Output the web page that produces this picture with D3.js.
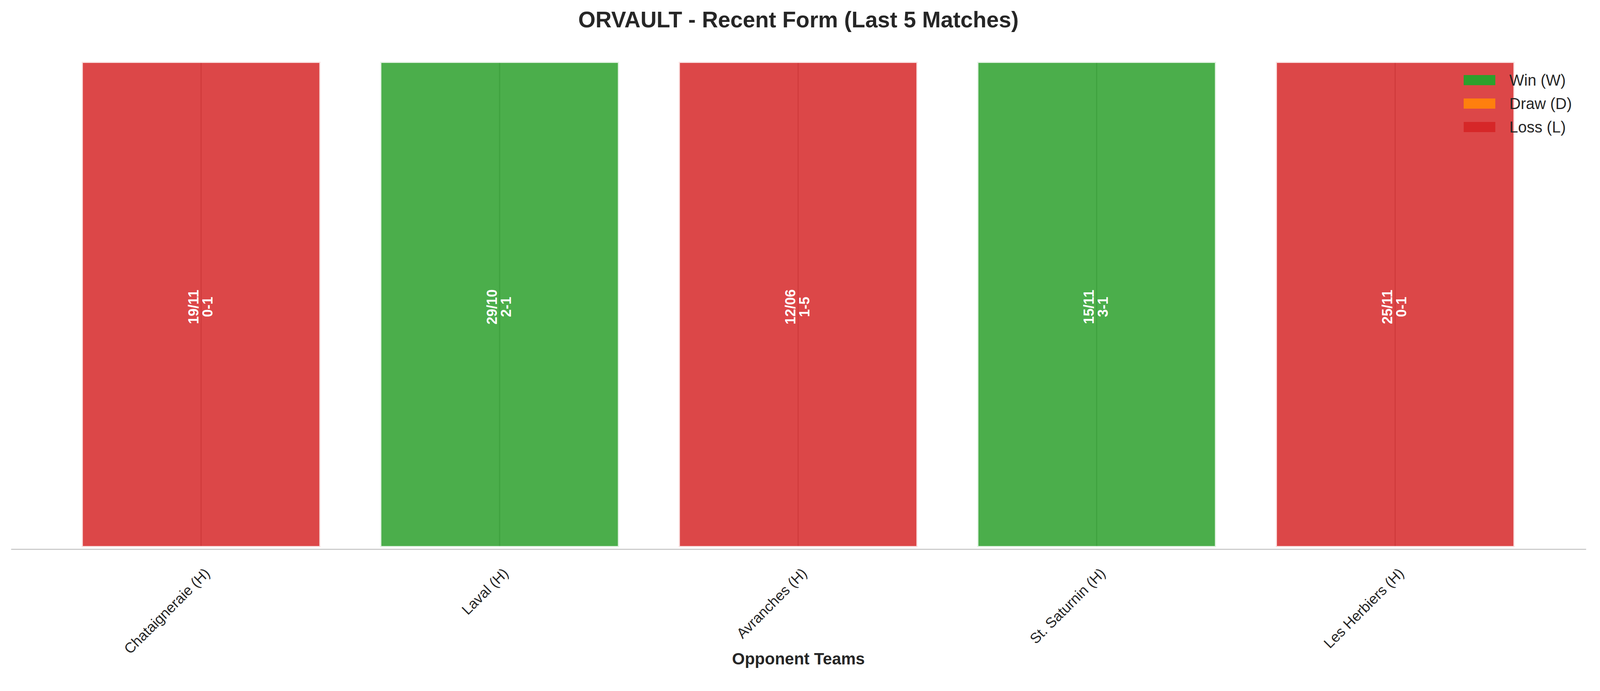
<!DOCTYPE html>
<html><head><meta charset="utf-8">
<script src="https://cdn.jsdelivr.net/npm/d3@7"></script>
<style>body{margin:0;background:#fff}</style>
</head><body>
<script>
const teams = ["Chataigneraie (H)","Laval (H)","Avranches (H)","St. Saturnin (H)","Les Herbiers (H)"];
const results = ["L","W","L","W","L"];
const dates = ["19/11","29/10","12/06","15/11","25/11"];
const scores = ["0-1","2-1","1-5","3-1","0-1"];
const values = [1,1,1,1,1];
const legendLabels = ["Win (W)","Draw (D)","Loss (L)"];
const legendKeys = ["W","D","L"];

const W=4170,H=1768;
const colors={W:"#2ca02c",D:"#ff7f0e",L:"#d62728"};
const font="'Liberation Sans', Arial, sans-serif";
const svg=d3.select("body").append("svg").attr("width",W).attr("height",H).style("font-family",font);

const x=d3.scaleLinear().domain([-0.637,4.639]).range([28,4060]);
const y=d3.scaleLinear().domain([0,1]).range([1400,158]);
const bw=x(0.4)-x(-0.4);

svg.append("g").selectAll("line").data(teams).join("line")
 .attr("x1",(d,i)=>x(i)).attr("x2",(d,i)=>x(i)).attr("y1",y(1)).attr("y2",y(0))
 .attr("stroke","#b0b0b0").attr("stroke-width",3);

svg.append("g").selectAll("rect").data(values).join("rect")
 .attr("x",(d,i)=>x(i)-bw/2).attr("width",bw)
 .attr("y",d=>y(d)).attr("height",d=>y(0)-y(d))
 .attr("fill",(d,i)=>colors[results[i]]).attr("fill-opacity",0.85)
 .attr("stroke","#fff").attr("stroke-opacity",0.85).attr("stroke-width",6);

const lab=svg.append("g").selectAll("text").data(values).join("text")
 .attr("transform",(d,i)=>`translate(${x(i)},${y(0.495)}) rotate(-90)`)
 .attr("text-anchor","middle").attr("fill","#fff").attr("font-weight","bold").attr("font-size",36);
lab.append("tspan").attr("x",0).attr("dy","-0.2em").text((d,i)=>dates[i]);
lab.append("tspan").attr("x",0).attr("dy","1.0em").text((d,i)=>scores[i]);

const ax=svg.append("g").attr("transform",`translate(0,${y(0)+5})`)
 .call(d3.axisBottom(x).tickValues(d3.range(teams.length)).tickFormat(i=>teams[i]).tickSize(0));
ax.select(".domain").attr("stroke","#cccccc").attr("stroke-width",3);
ax.selectAll("text").attr("font-size",37).attr("font-family",font).attr("fill","#262626")
 .attr("text-anchor","end").attr("dy",0).attr("transform","translate(22,62) rotate(-45)");

svg.append("text").attr("x",(28+4060)/2).attr("y",1700).attr("text-anchor","middle")
 .attr("font-size",42).attr("font-weight","bold").attr("fill","#262626").text("Opponent Teams");
svg.append("text").attr("x",(28+4060)/2).attr("y",70).attr("text-anchor","middle")
 .attr("font-size",57).attr("font-weight","bold").attr("fill","#262626").text("ORVAULT - Recent Form (Last 5 Matches)");

const lg=svg.append("g").selectAll("g").data(legendKeys).join("g")
 .attr("transform",(d,i)=>`translate(3747,${205+i*60})`);
lg.append("rect").attr("x",0).attr("y",-13).attr("width",81).attr("height",26).attr("fill",d=>colors[d]);
lg.append("text").attr("x",117).attr("y",14).attr("font-size",40).attr("fill","#262626").text((d,i)=>legendLabels[i]);
</script>
</body></html>
